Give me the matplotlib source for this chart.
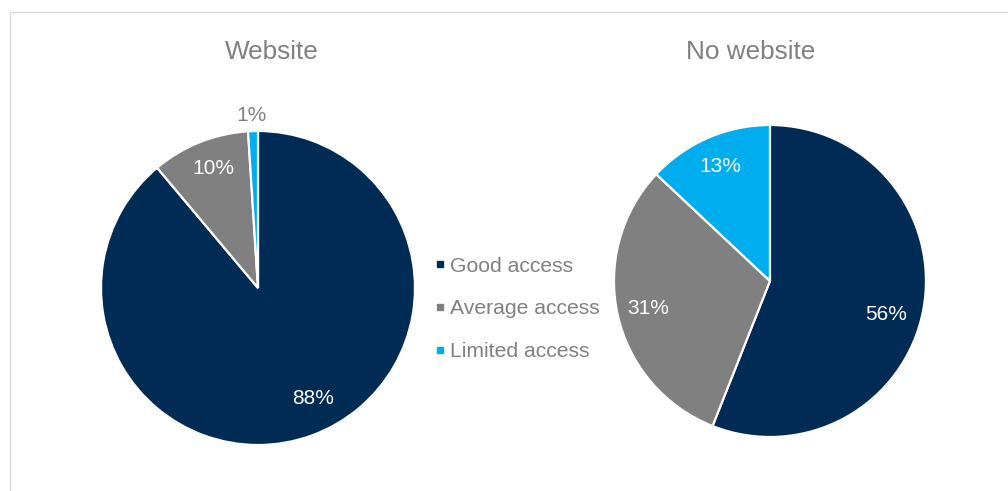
import numpy as np
import matplotlib.pyplot as plt
from matplotlib.lines import Line2D
from matplotlib.patches import Rectangle

plt.rcParams['font.family'] = ['Liberation Sans', 'DejaVu Sans']

categories = ['Good access', 'Average access', 'Limited access']
website = [88, 10, 1]
no_website = [56, 31, 13]
colors = ['#002B54', '#808080', '#00AEEF']
text_grey = '#808080'


def draw_pie(ax, values, label_dist, label_shift, label_colors):
    ax.pie(values, colors=colors, startangle=90, counterclock=False,
           wedgeprops=dict(edgecolor='white', linewidth=1.6))
    total = float(sum(values))
    start = 90.0
    for v, dist, shift, col in zip(values, label_dist, label_shift, label_colors):
        span = 360.0 * v / total
        mid = np.deg2rad(start - span / 2 + shift)
        ax.text(dist * np.cos(mid), dist * np.sin(mid), f'{v}%',
                ha='center', va='center', fontsize=15, color=col)
        start -= span
    ax.set_xlim(-1, 1)
    ax.set_ylim(-1, 1)
    ax.set_aspect('equal')
    ax.axis('off')


fig = plt.figure(figsize=(10.08, 4.91), dpi=100)

# light frame around the chart area
fig.patches.append(Rectangle((10 / 1008, -0.1), 1.2, 1 - 12 / 491 + 0.1,
                             transform=fig.transFigure, fill=False,
                             edgecolor='#D9D9D9', linewidth=1))

ax1 = fig.add_axes([0.1002, 0.0937, 0.3115, 0.6395])
draw_pie(ax1, website, [0.79, 0.81, 1.1], [6.5, -1.5, 0.5],
         ['white', 'white', text_grey])

ax2 = fig.add_axes([0.6091, 0.110, 0.3095, 0.6354])
draw_pie(ax2, no_website, [0.775, 0.8, 0.8], [-5.5, 0, 0],
         ['white', 'white', 'white'])

fig.text(272 / 1008, 1 - 52 / 491, 'Website', ha='center', va='center',
         fontsize=18.8, color=text_grey)
fig.text(751 / 1008, 1 - 52 / 491, 'No website', ha='center', va='center',
         fontsize=18.8, color=text_grey)

handles = [Line2D([], [], marker='s', linestyle='none', markersize=5,
                  markerfacecolor=c, markeredgecolor=c) for c in colors]
fig.legend(handles, categories, loc='center left',
           bbox_to_anchor=(424 / 1008, 1 - 309 / 491), frameon=False,
           fontsize=15.2, labelcolor=text_grey, handlelength=0.5,
           handletextpad=0.25, labelspacing=1.13, borderpad=0)

fig.savefig('out.png', dpi=100)
